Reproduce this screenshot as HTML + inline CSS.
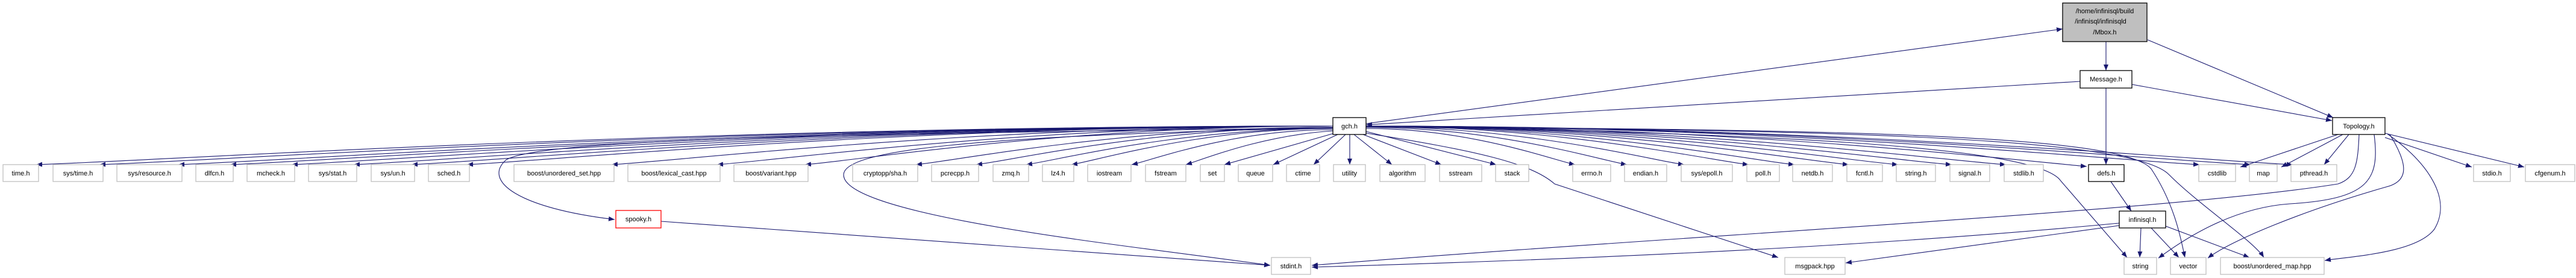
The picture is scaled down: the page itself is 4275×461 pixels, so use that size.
<!DOCTYPE html>
<html><head><meta charset="utf-8"><style>
html,body{margin:0;padding:0;background:#fff;}
svg{display:block;}
text{font-family:"Liberation Sans",sans-serif;font-size:11px;fill:#000;text-anchor:middle;}
.g{fill:#fff;stroke:#bfbfbf;stroke-width:1.3;}
.b{fill:#fff;stroke:#000;stroke-width:1.3;}
.e{fill:none;stroke:#191970;stroke-width:1.1;marker-end:url(#a);}
</style></head><body>
<svg width="4275" height="461" viewBox="0 0 4275 461" xmlns="http://www.w3.org/2000/svg">
<defs><marker id="a" markerUnits="userSpaceOnUse" markerWidth="12" markerHeight="10" refX="10" refY="4" orient="auto"><path d="M0,0 L10,4 L0,8 z" fill="#191970"/></marker></defs>

<!-- gch edges left -->
<path class="e" d="M2212,209 C1136,209 275,266 60,273"/>
<path class="e" d="M2212,209 C1188,209 370,266 165,273"/>
<path class="e" d="M2212,209 C1254,209 488,266 296,273"/>
<path class="e" d="M2212,209 C1297,209 565,266 382,273"/>
<path class="e" d="M2212,209 C1348,209 657,266 484,273"/>
<path class="e" d="M2212,209 C1400,209 750,266 587,273"/>
<path class="e" d="M2212,209 C1448,209 836,266 683,273"/>
<path class="e" d="M2212,209 C1494,209 919,266 775,273"/>
<path class="e" d="M2212,209 C1614,209 1135,266 1015,273"/>
<path class="e" d="M2212,209 C1701,209 1292,266 1190,273"/>
<path class="e" d="M2212,209 C1774,209 1424,266 1336,273"/>
<path class="e" d="M2212,211 C1866,211 1589,266 1520,273"/>
<path class="e" d="M2212,211 C1916,211 1679,266 1620,273"/>
<path class="e" d="M2212,213 C1958,213 1754,266 1703,273"/>
<path class="e" d="M2212,213 C1995,213 1821,266 1778,273"/>
<path class="e" d="M2212,215 C2045,215 1911,266 1878,273"/>
<path class="e" d="M2212,217 C2090,225 1992,266 1968,273"/>
<path class="e" d="M2214,221 L2032,273"/>
<path class="e" d="M2220,223 L2113,273"/>
<path class="e" d="M2233,223 L2180,273"/>
<path class="e" d="M2240,223 L2240,273"/>
<path class="e" d="M2247,223 L2310,273"/>
<path class="e" d="M2262,223 L2392,273"/>
<path class="e" d="M2267,218 L2483,273"/>
<!-- gch edges right -->
<path class="e" d="M2267,213 C2440,213 2579,266 2614,273"/>
<path class="e" d="M2267,211 C2483,211 2657,266 2700,273"/>
<path class="e" d="M2267,210 C2531,210 2742,266 2795,273"/>
<path class="e" d="M2267,209 C2584,209 2839,266 2902,273"/>
<path class="e" d="M2267,209 C2622,209 2907,266 2978,273"/>
<path class="e" d="M2267,209 C2667,209 2988,266 3068,273"/>
<path class="e" d="M2267,209 C2708,209 3062,266 3150,273"/>
<path class="e" d="M2267,209 C2753,209 3142,266 3239,273"/>
<path class="e" d="M2267,209 C2798,209 3223,266 3329,273"/>
<path class="e" d="M2267,209 C2866,209 3346,266 3463,276"/>
<path class="e" d="M2267,209 C2958,209 3512,266 3650,273"/>
<path class="e" d="M2267,209 C3001,209 3588,266 3735,273"/>
<path class="e" d="M2267,209 C3036,209 3651,266 3805,273"/>
<!-- gch other -->
<path class="e" d="M2212,212 C1400,222 900,230 840,265 C800,300 860,345 1020,364"/>
<path class="e" d="M2212,212 C1600,225 1400,250 1400,290 C1400,360 1900,410 2108,440"/>
<path class="e" d="M1097,367 L2108,440"/>
<path class="e" d="M2262,220 C2450,250 2540,270 2580,305 L2951,427"/>
<path class="e" d="M2267,210 C2900,220 3380,240 3420,300 L3530,427"/>
<path class="e" d="M2267,210 C3000,215 3520,220 3570,280 C3610,340 3620,400 3626,427"/>
<path class="e" d="M2267,210 C3000,215 3540,225 3600,290 C3650,340 3740,400 3757,427"/>
<!-- Mbox / Message -->
<path class="e" d="M2267,205 L3423,48"/>
<path class="e" d="M3452,135 L2267,207"/>
<path class="e" d="M3495,69 L3495,117"/>
<path class="e" d="M3564,66 L3872,195"/>
<path class="e" d="M3538,140 L3870,200"/>
<path class="e" d="M3495,146 L3495,273"/>
<!-- Topology -->
<path class="e" d="M3880,223 L3718,277"/>
<path class="e" d="M3888,223 L3786,277"/>
<path class="e" d="M3898,223 L3857,273"/>
<path class="e" d="M3958,228 L4102,277"/>
<path class="e" d="M3958,221 L4189,277"/>
<path class="e" d="M3915,223 C3913,270 3910,295 3880,305 C3600,350 2800,390 2177,440"/>
<path class="e" d="M3940,223 C3950,300 3930,330 3800,338 C3700,345 3620,400 3582,428"/>
<path class="e" d="M3966,223 C3995,270 4000,300 3960,310 C3820,350 3700,400 3664,428"/>
<path class="e" d="M3962,222 C4030,270 4070,330 4040,380 C4010,420 3900,425 3858,432"/>
<!-- defs / infinisql -->
<path class="e" d="M3503,301 L3537,350"/>
<path class="e" d="M3553,378 L3551,427"/>
<path class="e" d="M3570,378 L3616,427"/>
<path class="e" d="M3594,375 L3733,427"/>
<path class="e" d="M3517,374 L3063,436"/>
<path class="e" d="M3517,370 C3200,400 2800,425 2177,443"/>

<!-- nodes -->
<rect class="b" x="3423" y="5" width="140" height="64" style="fill:#bfbfbf"/>
<text x="3493" y="22">/home/infinisql/build</text>
<text x="3486" y="39">/infinisql/infinisqld</text>
<text x="3493" y="57">/Mbox.h</text>
<rect class="b" x="3452" y="117" width="86" height="29"/><text x="3495" y="135">Message.h</text>
<rect class="b" x="2212" y="195" width="55" height="28"/><text x="2239.5" y="213">gch.h</text>
<rect class="b" x="3871" y="195" width="87" height="28"/><text x="3914.5" y="213">Topology.h</text>
<rect class="b" x="3466" y="273" width="59" height="28"/><text x="3495.5" y="291">defs.h</text>
<rect class="b" x="3517" y="350" width="77" height="28"/><text x="3555.5" y="368">infinisql.h</text>
<rect class="g" x="1022" y="349" width="75" height="29" style="stroke:#ff0000"/><text x="1059.5" y="367">spooky.h</text>

<g>
<rect class="g" x="5" y="273" width="59" height="28"/><text x="34.5" y="291">time.h</text>
<rect class="g" x="88" y="273" width="83" height="28"/><text x="129.5" y="291">sys/time.h</text>
<rect class="g" x="194" y="273" width="108" height="28"/><text x="248" y="291">sys/resource.h</text>
<rect class="g" x="325" y="273" width="62" height="28"/><text x="356" y="291">dlfcn.h</text>
<rect class="g" x="410" y="273" width="79" height="28"/><text x="449.5" y="291">mcheck.h</text>
<rect class="g" x="512" y="273" width="80" height="28"/><text x="552" y="291">sys/stat.h</text>
<rect class="g" x="616" y="273" width="72" height="28"/><text x="652" y="291">sys/un.h</text>
<rect class="g" x="711" y="273" width="68" height="28"/><text x="745" y="291">sched.h</text>
<rect class="g" x="853" y="273" width="166" height="28"/><text x="936" y="291">boost/unordered_set.hpp</text>
<rect class="g" x="1042" y="273" width="153" height="28"/><text x="1118.5" y="291">boost/lexical_cast.hpp</text>
<rect class="g" x="1218" y="273" width="123" height="28"/><text x="1279.5" y="291">boost/variant.hpp</text>
<rect class="g" x="1415" y="273" width="108" height="28"/><text x="1469" y="291">cryptopp/sha.h</text>
<rect class="g" x="1546" y="273" width="78" height="28"/><text x="1585" y="291">pcrecpp.h</text>
<rect class="g" x="1648" y="273" width="59" height="28"/><text x="1677.5" y="291">zmq.h</text>
<rect class="g" x="1730" y="273" width="52" height="28"/><text x="1756" y="291">lz4.h</text>
<rect class="g" x="1805" y="273" width="72" height="28"/><text x="1841" y="291">iostream</text>
<rect class="g" x="1901" y="273" width="67" height="28"/><text x="1934.5" y="291">fstream</text>
<rect class="g" x="1992" y="273" width="40" height="28"/><text x="2012" y="291">set</text>
<rect class="g" x="2055" y="273" width="57" height="28"/><text x="2083.5" y="291">queue</text>
<rect class="g" x="2135" y="273" width="55" height="28"/><text x="2162.5" y="291">ctime</text>
<rect class="g" x="2213" y="273" width="53" height="28"/><text x="2239.5" y="291">utility</text>
<rect class="g" x="2290" y="273" width="75" height="28"/><text x="2327.5" y="291">algorithm</text>
<rect class="g" x="2389" y="273" width="70" height="28"/><text x="2424" y="291">sstream</text>
<rect class="g" x="2482" y="273" width="55" height="28"/><text x="2509.5" y="291">stack</text>
<rect class="g" x="2610" y="273" width="63" height="28"/><text x="2641.5" y="291">errno.h</text>
<rect class="g" x="2696" y="273" width="70" height="28"/><text x="2731" y="291">endian.h</text>
<rect class="g" x="2790" y="273" width="85" height="28"/><text x="2832.5" y="291">sys/epoll.h</text>
<rect class="g" x="2899" y="273" width="54" height="28"/><text x="2926" y="291">poll.h</text>
<rect class="g" x="2975" y="273" width="66" height="28"/><text x="3008" y="291">netdb.h</text>
<rect class="g" x="3065" y="273" width="59" height="28"/><text x="3094.5" y="291">fcntl.h</text>
<rect class="g" x="3147" y="273" width="65" height="28"/><text x="3179.5" y="291">string.h</text>
<rect class="g" x="3236" y="273" width="66" height="28"/><text x="3269" y="291">signal.h</text>
<rect class="g" x="3326" y="273" width="65" height="28"/><text x="3358.5" y="291">stdlib.h</text>
<rect class="g" x="3649" y="273" width="61" height="28"/><text x="3679.5" y="291">cstdlib</text>
<rect class="g" x="3733" y="273" width="46" height="28"/><text x="3756" y="291">map</text>
<rect class="g" x="3802" y="273" width="76" height="28"/><text x="3840" y="291">pthread.h</text>
<rect class="g" x="4105" y="273" width="61" height="28"/><text x="4135.5" y="291">stdio.h</text>
<rect class="g" x="4191" y="273" width="82" height="28"/><text x="4232" y="291">cfgenum.h</text>
<rect class="g" x="2110" y="427" width="65" height="28"/><text x="2142.5" y="445">stdint.h</text>
<rect class="g" x="2962" y="427" width="100" height="28"/><text x="3012" y="445">msgpack.hpp</text>
<rect class="g" x="3525" y="427" width="54" height="28"/><text x="3552" y="445">string</text>
<rect class="g" x="3602" y="427" width="59" height="28"/><text x="3631.5" y="445">vector</text>
<rect class="g" x="3685" y="427" width="172" height="28"/><text x="3771" y="445">boost/unordered_map.hpp</text>
</g>
</svg>
</body></html>
